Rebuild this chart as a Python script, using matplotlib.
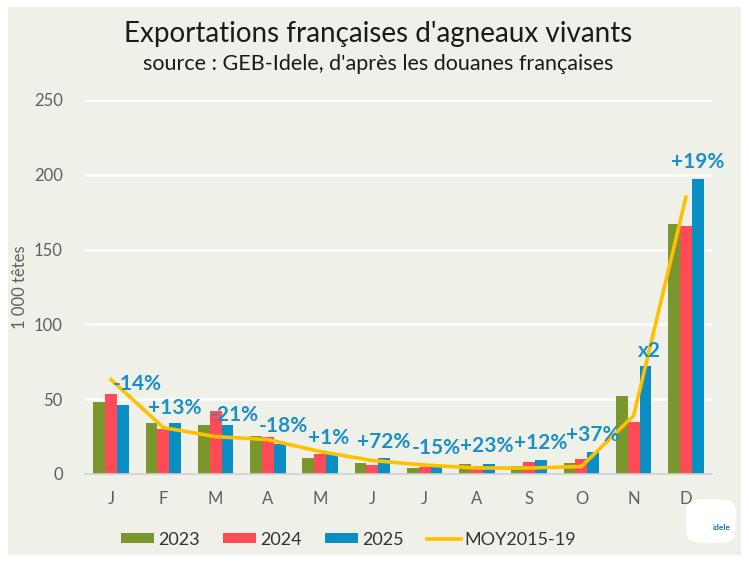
import numpy as np
import matplotlib.pyplot as plt
from matplotlib.patches import Rectangle, FancyBboxPatch

months = ['J', 'F', 'M', 'A', 'M', 'J', 'J', 'A', 'S', 'O', 'N', 'D']
y2023 = [48, 34, 33, 25.5, 11, 7.5, 4, 6.5, 5.5, 7.5, 52, 167]
y2024 = [53.5, 30, 42, 25, 13.5, 6, 5, 5.5, 8, 10, 35, 166]
y2025 = [46, 34, 33, 20, 13.5, 11, 4.5, 6.5, 9.5, 14.5, 72, 197]
moy = [63, 31, 25, 23, 15, 9, 6, 4, 4, 5, 39, 185]
evol = ['-14%', '+13%', '-21%', '-18%', '+1%', '+72%', '-15%', '+23%', '+12%', '+37%', 'x2', '+19%']

# label nudges (points), like the manual placement in the original
dx = [10, 0, 5, 3, -2, 0, 0, -1, 0, 0, 3, 0]
dy = [8, 4, 0, 6, 4, 4, 7, 6, 5, 5, 4, 5]

bg = '#eff0e8'
c23 = '#7a972e'
c24 = '#ff4b55'
c25 = '#0a8fc4'
cmoy = '#ffc000'
clab = '#1a8fc8'
grey = '#5f5f5f'

fig = plt.figure(figsize=(7.49, 5.62), dpi=100)
fig.patch.set_facecolor('white')
fig.patches.append(Rectangle((8 / 749, 7 / 562), 733 / 749, 548 / 562,
                             transform=fig.transFigure, facecolor=bg,
                             edgecolor='none', zorder=-10))

ax = fig.add_axes([85 / 749, 1 - 474 / 562, 627 / 749, 374 / 562])
ax.set_facecolor(bg)

x = np.arange(len(months))
w = 0.225
b1 = ax.bar(x - w, y2023, w, color=c23, label='2023', zorder=2)
b2 = ax.bar(x, y2024, w, color=c24, label='2024', zorder=2)
b3 = ax.bar(x + w, y2025, w, color=c25, label='2025', zorder=2)
l1, = ax.plot(x, moy, color=cmoy, lw=2.6, label='MOY2015-19', zorder=3)

for i, t in enumerate(evol):
    ax.annotate(t, (x[i] + w, y2025[i]), xytext=(dx[i], dy[i]), textcoords='offset points',
                ha='center', va='bottom', color=clab, fontsize=15,
                fontweight='bold', family='Lato', zorder=4)

ax.set_xlim(-0.5, 11.5)
ax.set_ylim(0, 250)
ax.set_yticks(range(0, 251, 50))
ax.set_xticks(x)
ax.set_xticklabels(months)
ax.yaxis.grid(True, color='white', lw=1.8, zorder=1)
ax.set_axisbelow(True)
for s in ['top', 'right', 'left']:
    ax.spines[s].set_visible(False)
ax.spines['bottom'].set_color('#d0d0d0')
ax.spines['bottom'].set_linewidth(1.2)
ax.tick_params(axis='both', length=0, colors=grey, labelsize=12)
ax.tick_params(axis='y', pad=16)
ax.tick_params(axis='x', pad=12)
for lab in ax.get_xticklabels() + ax.get_yticklabels():
    lab.set_family('Lato')
ax.set_ylabel('1 000 têtes', color=grey, fontsize=12, family='Lato', labelpad=4)

fig.text(0.505, 0.94, "Exportations françaises d'agneaux vivants", ha='center', va='center',
         fontsize=20, family='Lato', color='#1a1a1a')
fig.text(0.505, 0.887, "source : GEB-Idele, d'après les douanes françaises", ha='center', va='center',
         fontsize=15.5, family='Lato', color='#1a1a1a')

leg = fig.legend([b1, b2, b3, l1], ['2023', '2024', '2025', 'MOY2015-19'],
                 loc='center', bbox_to_anchor=(0.465, 0.04), ncol=4, frameon=False,
                 handlelength=1.85, handleheight=0.5, columnspacing=1.3,
                 handletextpad=0.2, prop={'family': 'Lato', 'size': 13})
for t in leg.get_texts():
    t.set_color('#333333')

# logo placeholder
fig.patches.append(FancyBboxPatch((690 / 749, 22 / 562), 42 / 749, 38 / 562,
                                  boxstyle='round,pad=0.005,rounding_size=0.02',
                                  transform=fig.transFigure, facecolor='white',
                                  edgecolor='none', zorder=-5))
fig.text(722 / 749, 35 / 562, 'idele', ha='center', va='center', fontsize=6,
         fontweight='bold', color='#1f6fb5', family='Lato')

fig.savefig('out.png', dpi=100, facecolor='white')
